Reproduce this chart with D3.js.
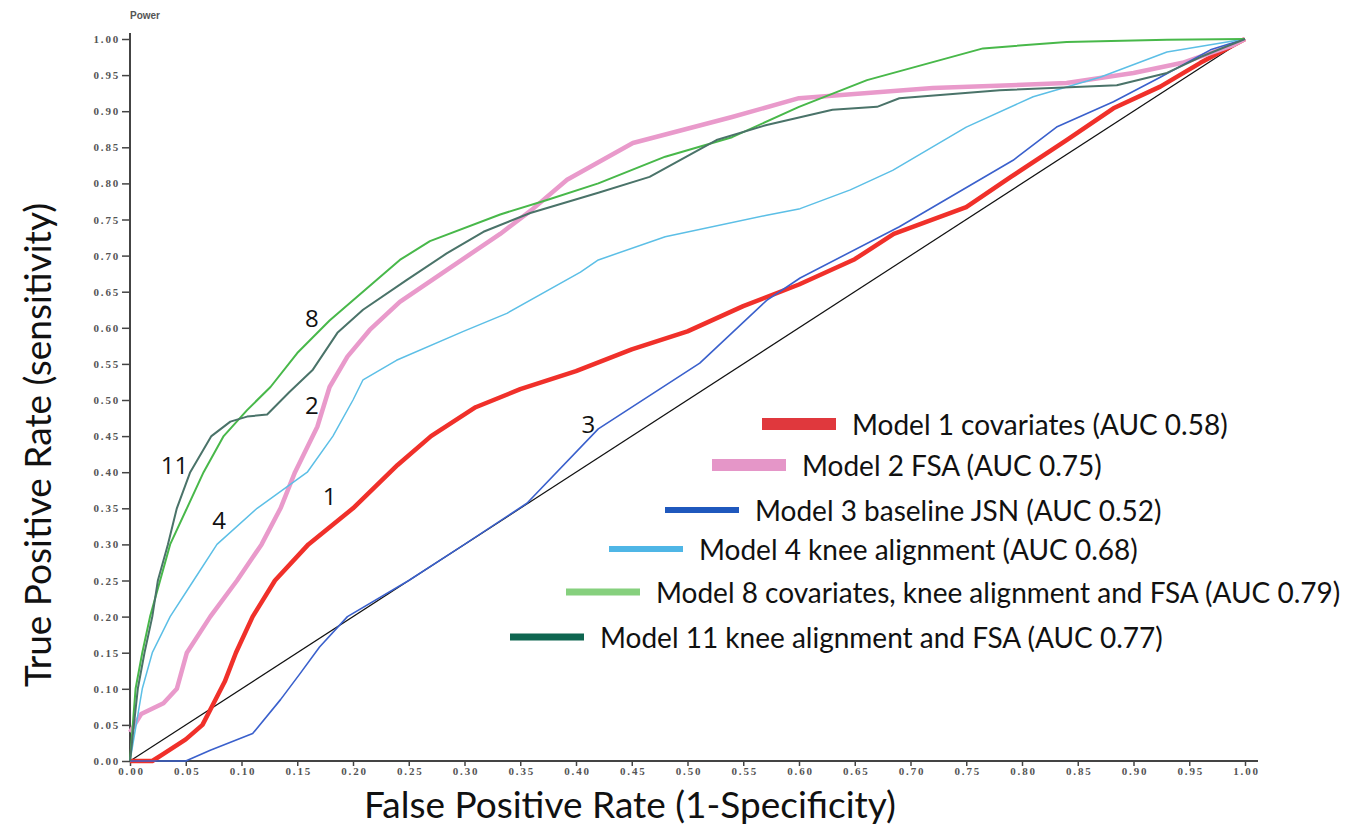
<!DOCTYPE html>
<html>
<head>
<meta charset="utf-8">
<script src="https://cdn.jsdelivr.net/npm/d3@7"></script>
<style>
  body { margin: 0; background: #fff; }
  .tick text { font-family: "Liberation Serif", serif; font-weight: bold; font-size: 11px; letter-spacing: 1.8px; fill: #555; }
  .axis path, .axis line { stroke: #444; }
  .title { font-family: Lato, "Open Sans", sans-serif; fill: #111; }
  .legend text { font-family: Lato, sans-serif; font-size: 28px; fill: #111; }
  .curveLabel { font-family: "Open Sans", sans-serif; font-size: 24px; fill: #111; }
</style>
</head>
<body>
<svg></svg>
<script>
// ROC curves, [FPR, TPR]
var model1 = [[0,0],[0.02,0],[0.03,0.01],[0.05,0.03],[0.065,0.05],[0.075,0.08],[0.085,0.11],[0.095,0.15],[0.11,0.2],[0.13,0.25],[0.16,0.3],[0.2,0.35],[0.24,0.41],[0.27,0.45],[0.31,0.49],[0.35,0.515],[0.4,0.54],[0.45,0.57],[0.5,0.595],[0.55,0.63],[0.6,0.66],[0.65,0.695],[0.685,0.73],[0.75,0.767],[0.79,0.809],[0.84,0.86],[0.882,0.904],[0.924,0.934],[0.96,0.967],[1,1]];
var model2 = [[0,0.04],[0.01,0.065],[0.03,0.08],[0.042,0.1],[0.051,0.15],[0.072,0.2],[0.096,0.25],[0.118,0.3],[0.135,0.35],[0.148,0.4],[0.168,0.463],[0.179,0.518],[0.195,0.56],[0.215,0.597],[0.242,0.636],[0.284,0.68],[0.332,0.73],[0.36,0.763],[0.392,0.805],[0.451,0.856],[0.54,0.892],[0.6,0.918],[0.72,0.932],[0.84,0.939],[0.9,0.953],[0.944,0.967],[0.99,0.992],[1,1]];
var model3 = [[0,0],[0.05,0],[0.072,0.015],[0.11,0.038],[0.135,0.085],[0.152,0.12],[0.17,0.158],[0.195,0.2],[0.25,0.25],[0.3,0.3],[0.356,0.357],[0.42,0.46],[0.511,0.551],[0.571,0.638],[0.601,0.669],[0.69,0.74],[0.792,0.832],[0.831,0.878],[0.882,0.913],[0.924,0.947],[0.969,0.985],[1,1]];
var model4 = [[0,0],[0.011,0.1],[0.02,0.15],[0.036,0.2],[0.057,0.25],[0.078,0.3],[0.114,0.35],[0.159,0.4],[0.182,0.45],[0.2,0.5],[0.209,0.528],[0.239,0.555],[0.299,0.595],[0.338,0.62],[0.404,0.677],[0.42,0.694],[0.48,0.726],[0.571,0.756],[0.601,0.765],[0.646,0.791],[0.684,0.818],[0.75,0.878],[0.81,0.92],[0.87,0.947],[0.93,0.982],[1,1]];
var model8 = [[0,0],[0.005,0.1],[0.011,0.15],[0.018,0.2],[0.027,0.25],[0.036,0.3],[0.051,0.35],[0.066,0.4],[0.084,0.45],[0.105,0.486],[0.126,0.518],[0.15,0.565],[0.179,0.61],[0.224,0.67],[0.242,0.694],[0.269,0.72],[0.332,0.757],[0.374,0.777],[0.42,0.8],[0.48,0.837],[0.54,0.864],[0.6,0.906],[0.661,0.943],[0.765,0.987],[0.84,0.996],[0.93,0.999],[1,1]];
var model11 = [[0,0],[0.007,0.1],[0.013,0.15],[0.02,0.2],[0.025,0.25],[0.034,0.3],[0.042,0.35],[0.054,0.4],[0.073,0.45],[0.09,0.47],[0.105,0.477],[0.123,0.48],[0.143,0.511],[0.164,0.542],[0.186,0.593],[0.209,0.625],[0.248,0.666],[0.284,0.703],[0.317,0.733],[0.359,0.759],[0.42,0.787],[0.466,0.809],[0.526,0.86],[0.571,0.881],[0.63,0.902],[0.67,0.906],[0.69,0.918],[0.78,0.929],[0.885,0.936],[0.93,0.953],[0.96,0.975],[1,1]];
var chance = [[0,0],[1,1]];

var names = ["Model 1 covariates (AUC 0.58)", "Model 2 FSA (AUC 0.75)", "Model 3 baseline JSN (AUC 0.52)",
  "Model 4 knee alignment (AUC 0.68)", "Model 8 covariates, knee alignment and FSA (AUC 0.79)",
  "Model 11 knee alignment and FSA (AUC 0.77)"];
var curveNums = ["1", "2", "3", "4", "8", "11"];
var labelPos = [[0.179, 0.368], [0.163, 0.494], [0.411, 0.467], [0.08, 0.334], [0.163, 0.614], [0.04, 0.41]];
var tickVals = d3.range(0, 21).map(function(i) { return i * 0.05; });

var series = [model1, model2, model3, model4, model8, model11];
var colors = ["#f0302a", "#e99acb", "#3a60cc", "#5cbfe6", "#48b84a", "#4a7369"];
var legendColors = ["#e0383d", "#e596c8", "#1f58bd", "#4fb6e6", "#86d07e", "#0e6650"];
var widths = [4.5, 4.5, 1.6, 1.5, 2, 2];
var swatchH = [12, 12, 6, 6, 7, 7];

var W = 1359, H = 831;
var mLeft = 130, mTop = 39, plotW = 1115, plotH = 722;

var svg = d3.select("svg").attr("width", W).attr("height", H);

var x = d3.scaleLinear().domain([0, 1]).range([mLeft, mLeft + plotW]);
var y = d3.scaleLinear().domain([0, 1]).range([mTop + plotH, mTop]);

// axes
var xAxis = svg.append("g").attr("class", "axis")
  .attr("transform", "translate(0," + (mTop + plotH) + ")")
  .call(d3.axisBottom(x).tickValues(tickVals).tickFormat(d3.format(".2f")).tickSize(5).tickSizeOuter(0));
xAxis.select(".domain").remove();
xAxis.append("line").attr("x1", mLeft).attr("x2", mLeft + plotW + 13).attr("stroke", "#444").attr("stroke-width", 2);
xAxis.selectAll(".tick line").attr("stroke-width", 1.5);
xAxis.selectAll(".tick text").attr("dy", "0.55em").attr("dx", "1px");

var yAxis = svg.append("g").attr("class", "axis")
  .attr("transform", "translate(" + mLeft + ",0)")
  .call(d3.axisLeft(y).tickValues(tickVals).tickFormat(d3.format(".2f")).tickSize(8).tickSizeOuter(0));
yAxis.select(".domain").remove();
yAxis.append("line").attr("y1", mTop - 6).attr("y2", mTop + plotH).attr("stroke", "#444").attr("stroke-width", 2);
yAxis.selectAll(".tick line").attr("stroke-width", 1.5);
yAxis.selectAll(".tick text").attr("x", -10);

svg.append("text").attr("x", 145).attr("y", 19).attr("text-anchor", "middle")
  .style("font-family", "Liberation Sans, sans-serif").style("font-weight", "bold")
  .style("font-size", "10px").style("fill", "#555").text("Power");

// curves
var line = d3.line().x(function(d) { return x(d[0]); }).y(function(d) { return y(d[1]); });

svg.append("path").datum(chance).attr("d", line)
  .attr("fill", "none").attr("stroke", "#111").attr("stroke-width", 1.2);

svg.selectAll(".roc")
  .data(series)
  .enter()
  .append("path")
  .attr("class", "roc")
  .attr("d", line)
  .attr("fill", "none")
  .attr("stroke", function(d, i) { return colors[i]; })
  .attr("stroke-width", function(d, i) { return widths[i]; })
  .attr("stroke-linejoin", "round");

// curve numbers
svg.selectAll(".curveLabel")
  .data(curveNums)
  .enter()
  .append("text")
  .attr("class", "curveLabel")
  .attr("x", function(d, i) { return x(labelPos[i][0]); })
  .attr("y", function(d, i) { return y(labelPos[i][1]); })
  .attr("text-anchor", "middle")
  .attr("dominant-baseline", "central")
  .text(function(d) { return d; });

// legend
var legendX = [762, 712, 665, 609, 566, 510];
var legendY = [424, 465, 510, 549, 592, 637];
var legend = svg.append("g").attr("class", "legend");
var item = legend.selectAll("g")
  .data(names)
  .enter()
  .append("g")
  .attr("transform", function(d, i) { return "translate(" + legendX[i] + "," + legendY[i] + ")"; });
item.append("rect")
  .attr("x", 0).attr("width", 74)
  .attr("y", function(d, i) { return -swatchH[i] / 2; })
  .attr("height", function(d, i) { return swatchH[i]; })
  .attr("fill", function(d, i) { return legendColors[i]; });
item.append("text")
  .attr("x", 90).attr("dominant-baseline", "central")
  .text(function(d) { return d; });

// axis titles
svg.append("text").attr("class", "title")
  .attr("x", 630).attr("y", 818).attr("text-anchor", "middle")
  .style("font-size", "37px").text("False Positive Rate (1-Specificity)");
svg.append("text").attr("class", "title")
  .attr("transform", "translate(36,445) rotate(-90)")
  .attr("text-anchor", "middle").attr("dominant-baseline", "central")
  .style("font-size", "37px").text("True Positive Rate (sensitivity)");
</script>
</body>
</html>
